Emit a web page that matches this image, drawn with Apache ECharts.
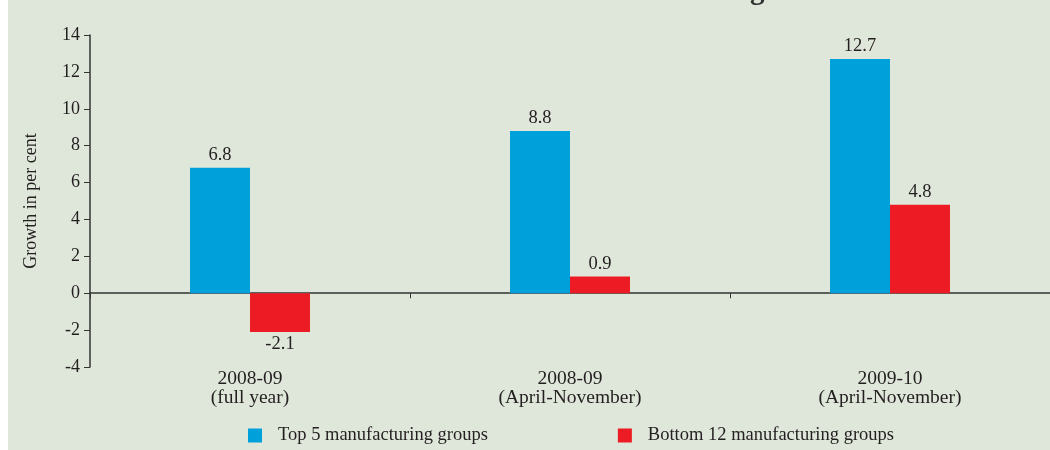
<!DOCTYPE html>
<html>
<head>
<meta charset="utf-8">
<script src="https://cdn.jsdelivr.net/npm/echarts@6/dist/echarts.min.js"></script>
<style>html,body{margin:0;padding:0;background:#fff;}#c{width:1050px;height:450px;}</style>
</head>
<body>
<div id="c"></div>
<script>
const categories = ['2008-09\n(full year)', '2008-09\n(April-November)', '2009-10\n(April-November)'];
const seriesNames = ['Top 5 manufacturing groups', 'Bottom 12 manufacturing groups'];
const topFive = [6.8, 8.8, 12.7];
const bottomTwelve = [-2.1, 0.9, 4.8];
const yTicks = { min: -4, max: 14, interval: 2 };
const titleText = 'Chart 9.3: Growth Performance of the Manufacturing Sector in the IIP';

const FONT = '"Liberation Serif", "DejaVu Serif", serif';
const TXT = '#231f20';

function withLabels(arr) {
  return arr.map(v => ({ value: v, label: { position: v < 0 ? 'bottom' : 'top' } }));
}

const chart = echarts.init(document.getElementById('c'), null, { renderer: 'canvas' });
chart.setOption({
  backgroundColor: '#ffffff',
  animation: false,
  graphic: [
    { type: 'rect', z: -10, silent: true, shape: { x: 8, y: 0, width: 1042, height: 450 }, style: { fill: '#dfe6da' } },
    { type: 'text', z: 10, silent: true, style: { x: 534, y: 6, text: titleText, textAlign: 'center', textVerticalAlign: 'bottom', font: 'bold 29px ' + FONT, fill: '#333' } }
  ],
  grid: { left: 90, right: 0, top: 35, bottom: 83, containLabel: false },
  legend: {
    left: 243, top: 421, itemWidth: 14, itemHeight: 14, itemGap: 130,
    icon: 'rect',
    textStyle: { fontFamily: FONT, fontSize: 18.5, color: TXT, padding: [0, 0, 0, 11] },
    data: seriesNames
  },
  xAxis: [
    {
      type: 'category', data: categories,
      axisLine: { onZero: true, lineStyle: { color: '#333', width: 1.5 } },
      axisTick: { show: true, length: 5, lineStyle: { color: '#333' } },
      axisLabel: { show: false }
    },
    {
      type: 'category', data: categories, position: 'bottom',
      axisLine: { show: false, onZero: false }, axisTick: { show: false },
      axisLabel: { fontFamily: FONT, fontSize: 19.5, color: TXT, lineHeight: 19, margin: 2 }
    }
  ],
  yAxis: {
    type: 'value', min: yTicks.min, max: yTicks.max, interval: yTicks.interval,
    name: 'Growth in per cent', nameLocation: 'middle', nameGap: 50,
    nameTextStyle: { fontFamily: FONT, fontSize: 18, color: TXT },
    axisLine: { show: true, lineStyle: { color: '#333', width: 1.5 } },
    axisTick: { show: true, length: 6, lineStyle: { color: '#333' } },
    splitLine: { show: false },
    axisLabel: { fontFamily: FONT, fontSize: 18, color: TXT, margin: 10 }
  },
  series: [
    {
      name: seriesNames[0], type: 'bar', barWidth: 60, barGap: '0%',
      itemStyle: { color: '#00a0da' },
      label: { show: true, position: 'top', distance: 3, fontFamily: FONT, fontSize: 18.5, color: TXT },
      data: withLabels(topFive)
    },
    {
      name: seriesNames[1], type: 'bar', barWidth: 60, barGap: '0%',
      itemStyle: { color: '#ed1c24' },
      label: { show: true, position: 'top', distance: 3, fontFamily: FONT, fontSize: 18.5, color: TXT },
      data: withLabels(bottomTwelve)
    }
  ]
});
</script>
</body>
</html>
